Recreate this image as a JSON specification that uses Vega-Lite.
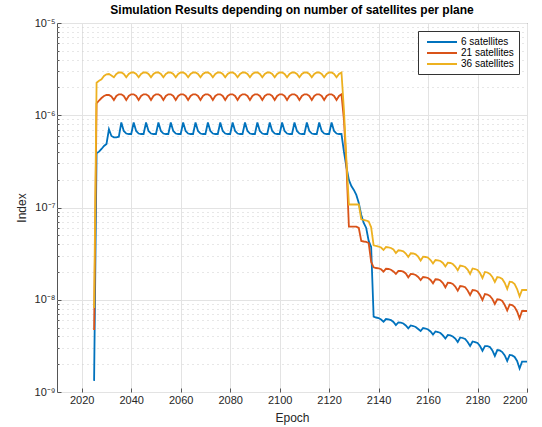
{
 "$schema": "https://vega.github.io/schema/vega-lite/v6.json",
 "width": 470,
 "height": 369,
 "autosize": "none",
 "padding": {"left": 57, "top": 23, "right": 15, "bottom": 35},
 "background": "white",
 "title": {"text": "Simulation Results depending on number of satellites per plane", "fontSize": 12, "fontWeight": "bold", "font": "Liberation Sans", "color": "#000000", "anchor": "middle", "offset": 0},
 "data": {"values": [
  {"Epoch": 2025, "6 satellites": 1.32e-9, "21 satellites": 4.70e-9, "36 satellites": 8.14e-9},
  {"Epoch": 2026, "6 satellites": 3.87e-7, "21 satellites": 1.348e-6, "36 satellites": 2.253e-6},
  {"Epoch": 2027, "6 satellites": 4.03e-7, "21 satellites": 1.445e-6, "36 satellites": 2.368e-6},
  {"Epoch": 2028, "6 satellites": 4.31e-7, "21 satellites": 1.538e-6, "36 satellites": 2.453e-6},
  {"Epoch": 2029, "6 satellites": 4.64e-7, "21 satellites": 1.617e-6, "36 satellites": 2.665e-6},
  {"Epoch": 2030, "6 satellites": 4.88e-7, "21 satellites": 1.658e-6, "36 satellites": 2.78e-6},
  {"Epoch": 2031, "6 satellites": 7.04e-7, "21 satellites": 1.658e-6, "36 satellites": 2.80e-6},
  {"Epoch": 2032, "6 satellites": 5.96e-7, "21 satellites": 1.597e-6, "36 satellites": 2.698e-6},
  {"Epoch": 2033, "6 satellites": 5.77e-7, "21 satellites": 1.463e-6, "36 satellites": 2.579e-6},
  {"Epoch": 2034, "6 satellites": 5.77e-7, "21 satellites": 1.617e-6, "36 satellites": 2.80e-6},
  {"Epoch": 2035, "6 satellites": 5.86e-7, "21 satellites": 1.687e-6, "36 satellites": 2.906e-6},
  {"Epoch": 2036, "6 satellites": 8.34e-7, "21 satellites": 1.687e-6, "36 satellites": 2.906e-6},
  {"Epoch": 2037, "6 satellites": 6.75e-7, "21 satellites": 1.617e-6, "36 satellites": 2.80e-6},
  {"Epoch": 2038, "6 satellites": 6.34e-7, "21 satellites": 1.463e-6, "36 satellites": 2.579e-6},
  {"Epoch": 2039, "6 satellites": 6.26e-7, "21 satellites": 1.617e-6, "36 satellites": 2.80e-6},
  {"Epoch": 2040, "6 satellites": 6.26e-7, "21 satellites": 1.687e-6, "36 satellites": 2.906e-6},
  {"Epoch": 2041, "6 satellites": 8.34e-7, "21 satellites": 1.687e-6, "36 satellites": 2.906e-6},
  {"Epoch": 2042, "6 satellites": 6.75e-7, "21 satellites": 1.617e-6, "36 satellites": 2.80e-6},
  {"Epoch": 2043, "6 satellites": 6.34e-7, "21 satellites": 1.463e-6, "36 satellites": 2.579e-6},
  {"Epoch": 2044, "6 satellites": 6.26e-7, "21 satellites": 1.617e-6, "36 satellites": 2.80e-6},
  {"Epoch": 2045, "6 satellites": 6.26e-7, "21 satellites": 1.687e-6, "36 satellites": 2.906e-6},
  {"Epoch": 2046, "6 satellites": 8.34e-7, "21 satellites": 1.687e-6, "36 satellites": 2.906e-6},
  {"Epoch": 2047, "6 satellites": 6.75e-7, "21 satellites": 1.617e-6, "36 satellites": 2.80e-6},
  {"Epoch": 2048, "6 satellites": 6.34e-7, "21 satellites": 1.463e-6, "36 satellites": 2.579e-6},
  {"Epoch": 2049, "6 satellites": 6.26e-7, "21 satellites": 1.617e-6, "36 satellites": 2.80e-6},
  {"Epoch": 2050, "6 satellites": 6.26e-7, "21 satellites": 1.687e-6, "36 satellites": 2.906e-6},
  {"Epoch": 2051, "6 satellites": 8.34e-7, "21 satellites": 1.687e-6, "36 satellites": 2.906e-6},
  {"Epoch": 2052, "6 satellites": 6.75e-7, "21 satellites": 1.617e-6, "36 satellites": 2.80e-6},
  {"Epoch": 2053, "6 satellites": 6.34e-7, "21 satellites": 1.463e-6, "36 satellites": 2.579e-6},
  {"Epoch": 2054, "6 satellites": 6.26e-7, "21 satellites": 1.617e-6, "36 satellites": 2.80e-6},
  {"Epoch": 2055, "6 satellites": 6.26e-7, "21 satellites": 1.687e-6, "36 satellites": 2.906e-6},
  {"Epoch": 2056, "6 satellites": 8.34e-7, "21 satellites": 1.687e-6, "36 satellites": 2.906e-6},
  {"Epoch": 2057, "6 satellites": 6.75e-7, "21 satellites": 1.617e-6, "36 satellites": 2.80e-6},
  {"Epoch": 2058, "6 satellites": 6.34e-7, "21 satellites": 1.463e-6, "36 satellites": 2.579e-6},
  {"Epoch": 2059, "6 satellites": 6.26e-7, "21 satellites": 1.617e-6, "36 satellites": 2.80e-6},
  {"Epoch": 2060, "6 satellites": 6.26e-7, "21 satellites": 1.687e-6, "36 satellites": 2.906e-6},
  {"Epoch": 2061, "6 satellites": 8.34e-7, "21 satellites": 1.687e-6, "36 satellites": 2.906e-6},
  {"Epoch": 2062, "6 satellites": 6.75e-7, "21 satellites": 1.617e-6, "36 satellites": 2.80e-6},
  {"Epoch": 2063, "6 satellites": 6.34e-7, "21 satellites": 1.463e-6, "36 satellites": 2.579e-6},
  {"Epoch": 2064, "6 satellites": 6.26e-7, "21 satellites": 1.617e-6, "36 satellites": 2.80e-6},
  {"Epoch": 2065, "6 satellites": 6.26e-7, "21 satellites": 1.687e-6, "36 satellites": 2.906e-6},
  {"Epoch": 2066, "6 satellites": 8.34e-7, "21 satellites": 1.687e-6, "36 satellites": 2.906e-6},
  {"Epoch": 2067, "6 satellites": 6.75e-7, "21 satellites": 1.617e-6, "36 satellites": 2.80e-6},
  {"Epoch": 2068, "6 satellites": 6.34e-7, "21 satellites": 1.463e-6, "36 satellites": 2.579e-6},
  {"Epoch": 2069, "6 satellites": 6.26e-7, "21 satellites": 1.617e-6, "36 satellites": 2.80e-6},
  {"Epoch": 2070, "6 satellites": 6.26e-7, "21 satellites": 1.687e-6, "36 satellites": 2.906e-6},
  {"Epoch": 2071, "6 satellites": 8.34e-7, "21 satellites": 1.687e-6, "36 satellites": 2.906e-6},
  {"Epoch": 2072, "6 satellites": 6.75e-7, "21 satellites": 1.617e-6, "36 satellites": 2.80e-6},
  {"Epoch": 2073, "6 satellites": 6.34e-7, "21 satellites": 1.463e-6, "36 satellites": 2.579e-6},
  {"Epoch": 2074, "6 satellites": 6.26e-7, "21 satellites": 1.617e-6, "36 satellites": 2.80e-6},
  {"Epoch": 2075, "6 satellites": 6.26e-7, "21 satellites": 1.687e-6, "36 satellites": 2.906e-6},
  {"Epoch": 2076, "6 satellites": 8.34e-7, "21 satellites": 1.687e-6, "36 satellites": 2.906e-6},
  {"Epoch": 2077, "6 satellites": 6.75e-7, "21 satellites": 1.617e-6, "36 satellites": 2.80e-6},
  {"Epoch": 2078, "6 satellites": 6.34e-7, "21 satellites": 1.463e-6, "36 satellites": 2.579e-6},
  {"Epoch": 2079, "6 satellites": 6.26e-7, "21 satellites": 1.617e-6, "36 satellites": 2.80e-6},
  {"Epoch": 2080, "6 satellites": 6.26e-7, "21 satellites": 1.687e-6, "36 satellites": 2.906e-6},
  {"Epoch": 2081, "6 satellites": 8.34e-7, "21 satellites": 1.687e-6, "36 satellites": 2.906e-6},
  {"Epoch": 2082, "6 satellites": 6.75e-7, "21 satellites": 1.617e-6, "36 satellites": 2.80e-6},
  {"Epoch": 2083, "6 satellites": 6.34e-7, "21 satellites": 1.463e-6, "36 satellites": 2.579e-6},
  {"Epoch": 2084, "6 satellites": 6.26e-7, "21 satellites": 1.617e-6, "36 satellites": 2.80e-6},
  {"Epoch": 2085, "6 satellites": 6.26e-7, "21 satellites": 1.687e-6, "36 satellites": 2.906e-6},
  {"Epoch": 2086, "6 satellites": 8.34e-7, "21 satellites": 1.687e-6, "36 satellites": 2.906e-6},
  {"Epoch": 2087, "6 satellites": 6.75e-7, "21 satellites": 1.617e-6, "36 satellites": 2.80e-6},
  {"Epoch": 2088, "6 satellites": 6.34e-7, "21 satellites": 1.463e-6, "36 satellites": 2.579e-6},
  {"Epoch": 2089, "6 satellites": 6.26e-7, "21 satellites": 1.617e-6, "36 satellites": 2.80e-6},
  {"Epoch": 2090, "6 satellites": 6.26e-7, "21 satellites": 1.687e-6, "36 satellites": 2.906e-6},
  {"Epoch": 2091, "6 satellites": 8.34e-7, "21 satellites": 1.687e-6, "36 satellites": 2.906e-6},
  {"Epoch": 2092, "6 satellites": 6.75e-7, "21 satellites": 1.617e-6, "36 satellites": 2.80e-6},
  {"Epoch": 2093, "6 satellites": 6.34e-7, "21 satellites": 1.463e-6, "36 satellites": 2.579e-6},
  {"Epoch": 2094, "6 satellites": 6.26e-7, "21 satellites": 1.617e-6, "36 satellites": 2.80e-6},
  {"Epoch": 2095, "6 satellites": 6.26e-7, "21 satellites": 1.687e-6, "36 satellites": 2.906e-6},
  {"Epoch": 2096, "6 satellites": 8.34e-7, "21 satellites": 1.687e-6, "36 satellites": 2.906e-6},
  {"Epoch": 2097, "6 satellites": 6.75e-7, "21 satellites": 1.617e-6, "36 satellites": 2.80e-6},
  {"Epoch": 2098, "6 satellites": 6.34e-7, "21 satellites": 1.463e-6, "36 satellites": 2.579e-6},
  {"Epoch": 2099, "6 satellites": 6.26e-7, "21 satellites": 1.617e-6, "36 satellites": 2.80e-6},
  {"Epoch": 2100, "6 satellites": 6.26e-7, "21 satellites": 1.687e-6, "36 satellites": 2.906e-6},
  {"Epoch": 2101, "6 satellites": 8.34e-7, "21 satellites": 1.687e-6, "36 satellites": 2.906e-6},
  {"Epoch": 2102, "6 satellites": 6.75e-7, "21 satellites": 1.617e-6, "36 satellites": 2.80e-6},
  {"Epoch": 2103, "6 satellites": 6.34e-7, "21 satellites": 1.463e-6, "36 satellites": 2.579e-6},
  {"Epoch": 2104, "6 satellites": 6.26e-7, "21 satellites": 1.617e-6, "36 satellites": 2.80e-6},
  {"Epoch": 2105, "6 satellites": 6.26e-7, "21 satellites": 1.687e-6, "36 satellites": 2.906e-6},
  {"Epoch": 2106, "6 satellites": 8.34e-7, "21 satellites": 1.687e-6, "36 satellites": 2.906e-6},
  {"Epoch": 2107, "6 satellites": 6.75e-7, "21 satellites": 1.617e-6, "36 satellites": 2.80e-6},
  {"Epoch": 2108, "6 satellites": 6.34e-7, "21 satellites": 1.463e-6, "36 satellites": 2.579e-6},
  {"Epoch": 2109, "6 satellites": 6.26e-7, "21 satellites": 1.617e-6, "36 satellites": 2.80e-6},
  {"Epoch": 2110, "6 satellites": 6.26e-7, "21 satellites": 1.687e-6, "36 satellites": 2.906e-6},
  {"Epoch": 2111, "6 satellites": 8.34e-7, "21 satellites": 1.687e-6, "36 satellites": 2.906e-6},
  {"Epoch": 2112, "6 satellites": 6.75e-7, "21 satellites": 1.617e-6, "36 satellites": 2.80e-6},
  {"Epoch": 2113, "6 satellites": 6.34e-7, "21 satellites": 1.463e-6, "36 satellites": 2.579e-6},
  {"Epoch": 2114, "6 satellites": 6.26e-7, "21 satellites": 1.617e-6, "36 satellites": 2.80e-6},
  {"Epoch": 2115, "6 satellites": 6.26e-7, "21 satellites": 1.687e-6, "36 satellites": 2.906e-6},
  {"Epoch": 2116, "6 satellites": 8.34e-7, "21 satellites": 1.687e-6, "36 satellites": 2.906e-6},
  {"Epoch": 2117, "6 satellites": 6.75e-7, "21 satellites": 1.617e-6, "36 satellites": 2.80e-6},
  {"Epoch": 2118, "6 satellites": 6.34e-7, "21 satellites": 1.463e-6, "36 satellites": 2.579e-6},
  {"Epoch": 2119, "6 satellites": 6.26e-7, "21 satellites": 1.617e-6, "36 satellites": 2.80e-6},
  {"Epoch": 2120, "6 satellites": 6.26e-7, "21 satellites": 1.687e-6, "36 satellites": 2.906e-6},
  {"Epoch": 2121, "6 satellites": 8.34e-7, "21 satellites": 1.687e-6, "36 satellites": 2.906e-6},
  {"Epoch": 2122, "6 satellites": 6.75e-7, "21 satellites": 1.617e-6, "36 satellites": 2.80e-6},
  {"Epoch": 2123, "6 satellites": 6.34e-7, "21 satellites": 1.463e-6, "36 satellites": 2.579e-6},
  {"Epoch": 2124, "6 satellites": 6.26e-7, "21 satellites": 1.617e-6, "36 satellites": 2.80e-6},
  {"Epoch": 2125, "6 satellites": 6.26e-7, "21 satellites": 1.687e-6, "36 satellites": 2.906e-6},
  {"Epoch": 2126, "6 satellites": 4.00e-7, "21 satellites": 8.88e-7, "36 satellites": 1.14e-6},
  {"Epoch": 2127, "6 satellites": 2.75e-7, "21 satellites": 2.89e-7, "36 satellites": 3.27e-7},
  {"Epoch": 2128, "6 satellites": 1.99e-7, "21 satellites": 6.19e-8, "36 satellites": 1.078e-7},
  {"Epoch": 2129, "6 satellites": 1.71e-7, "21 satellites": 6.19e-8, "36 satellites": 1.078e-7},
  {"Epoch": 2130, "6 satellites": 1.55e-7, "21 satellites": 6.19e-8, "36 satellites": 1.078e-7},
  {"Epoch": 2131, "6 satellites": 1.37e-7, "21 satellites": 6.19e-8, "36 satellites": 1.078e-7},
  {"Epoch": 2132, "6 satellites": 1.12e-7, "21 satellites": 6.0e-8, "36 satellites": 1.078e-7},
  {"Epoch": 2133, "6 satellites": 8.29e-8, "21 satellites": 4.34e-8, "36 satellites": 7.45e-8},
  {"Epoch": 2134, "6 satellites": 6.79e-8, "21 satellites": 4.28e-8, "36 satellites": 7.32e-8},
  {"Epoch": 2135, "6 satellites": 6.0e-8, "21 satellites": 4.23e-8, "36 satellites": 7.23e-8},
  {"Epoch": 2136, "6 satellites": 4.34e-8, "21 satellites": 4.12e-8, "36 satellites": 7.05e-8},
  {"Epoch": 2137, "6 satellites": 3.73e-8, "21 satellites": 2.57e-8, "36 satellites": 6.1e-8},
  {"Epoch": 2138, "6 satellites": 6.55e-9, "21 satellites": 2.247e-8, "36 satellites": 3.893e-8},
  {"Epoch": 2139, "6 satellites": 6.42e-9, "21 satellites": 2.209e-8, "36 satellites": 3.826e-8},
  {"Epoch": 2140, "6 satellites": 6.34e-9, "21 satellites": 2.193e-8, "36 satellites": 3.778e-8},
  {"Epoch": 2141, "6 satellites": 6.11e-9, "21 satellites": 2.139e-8, "36 satellites": 3.685e-8},
  {"Epoch": 2142, "6 satellites": 5.78e-9, "21 satellites": 2.015e-8, "36 satellites": 3.462e-8},
  {"Epoch": 2143, "6 satellites": 6.18e-9, "21 satellites": 2.166e-8, "36 satellites": 3.731e-8},
  {"Epoch": 2144, "6 satellites": 6.14e-9, "21 satellites": 2.154e-8, "36 satellites": 3.703e-8},
  {"Epoch": 2145, "6 satellites": 6.03e-9, "21 satellites": 2.117e-8, "36 satellites": 3.639e-8},
  {"Epoch": 2146, "6 satellites": 5.74e-9, "21 satellites": 2.025e-8, "36 satellites": 3.505e-8},
  {"Epoch": 2147, "6 satellites": 5.32e-9, "21 satellites": 1.902e-8, "36 satellites": 3.212e-8},
  {"Epoch": 2148, "6 satellites": 5.67e-9, "21 satellites": 2.050e-8, "36 satellites": 3.436e-8},
  {"Epoch": 2149, "6 satellites": 5.64e-9, "21 satellites": 2.050e-8, "36 satellites": 3.402e-8},
  {"Epoch": 2150, "6 satellites": 5.53e-9, "21 satellites": 2.015e-8, "36 satellites": 3.351e-8},
  {"Epoch": 2151, "6 satellites": 5.26e-9, "21 satellites": 1.926e-8, "36 satellites": 3.172e-8},
  {"Epoch": 2152, "6 satellites": 4.90e-9, "21 satellites": 1.751e-8, "36 satellites": 2.907e-8},
  {"Epoch": 2153, "6 satellites": 5.26e-9, "21 satellites": 1.902e-8, "36 satellites": 3.188e-8},
  {"Epoch": 2154, "6 satellites": 5.19e-9, "21 satellites": 1.892e-8, "36 satellites": 3.172e-8},
  {"Epoch": 2155, "6 satellites": 5.07e-9, "21 satellites": 1.855e-8, "36 satellites": 3.110e-8},
  {"Epoch": 2156, "6 satellites": 4.82e-9, "21 satellites": 1.764e-8, "36 satellites": 2.929e-8},
  {"Epoch": 2157, "6 satellites": 4.58e-9, "21 satellites": 1.637e-8, "36 satellites": 2.664e-8},
  {"Epoch": 2158, "6 satellites": 4.94e-9, "21 satellites": 1.764e-8, "36 satellites": 2.929e-8},
  {"Epoch": 2159, "6 satellites": 4.88e-9, "21 satellites": 1.751e-8, "36 satellites": 2.907e-8},
  {"Epoch": 2160, "6 satellites": 4.76e-9, "21 satellites": 1.721e-8, "36 satellites": 2.857e-8},
  {"Epoch": 2161, "6 satellites": 4.53e-9, "21 satellites": 1.637e-8, "36 satellites": 2.697e-8},
  {"Epoch": 2162, "6 satellites": 4.20e-9, "21 satellites": 1.508e-8, "36 satellites": 2.472e-8},
  {"Epoch": 2163, "6 satellites": 4.53e-9, "21 satellites": 1.666e-8, "36 satellites": 2.697e-8},
  {"Epoch": 2164, "6 satellites": 4.47e-9, "21 satellites": 1.658e-8, "36 satellites": 2.677e-8},
  {"Epoch": 2165, "6 satellites": 4.36e-9, "21 satellites": 1.617e-8, "36 satellites": 2.631e-8},
  {"Epoch": 2166, "6 satellites": 4.10e-9, "21 satellites": 1.519e-8, "36 satellites": 2.503e-8},
  {"Epoch": 2167, "6 satellites": 3.80e-9, "21 satellites": 1.365e-8, "36 satellites": 2.293e-8},
  {"Epoch": 2168, "6 satellites": 4.15e-9, "21 satellites": 1.530e-8, "36 satellites": 2.521e-8},
  {"Epoch": 2169, "6 satellites": 4.10e-9, "21 satellites": 1.519e-8, "36 satellites": 2.503e-8},
  {"Epoch": 2170, "6 satellites": 4.00e-9, "21 satellites": 1.482e-8, "36 satellites": 2.441e-8},
  {"Epoch": 2171, "6 satellites": 3.80e-9, "21 satellites": 1.392e-8, "36 satellites": 2.293e-8},
  {"Epoch": 2172, "6 satellites": 3.48e-9, "21 satellites": 1.253e-8, "36 satellites": 2.086e-8},
  {"Epoch": 2173, "6 satellites": 3.90e-9, "21 satellites": 1.410e-8, "36 satellites": 2.351e-8},
  {"Epoch": 2174, "6 satellites": 3.85e-9, "21 satellites": 1.399e-8, "36 satellites": 2.322e-8},
  {"Epoch": 2175, "6 satellites": 3.75e-9, "21 satellites": 1.365e-8, "36 satellites": 2.265e-8},
  {"Epoch": 2176, "6 satellites": 3.48e-9, "21 satellites": 1.260e-8, "36 satellites": 2.128e-8},
  {"Epoch": 2177, "6 satellites": 3.15e-9, "21 satellites": 1.126e-8, "36 satellites": 1.902e-8},
  {"Epoch": 2178, "6 satellites": 3.53e-9, "21 satellites": 1.276e-8, "36 satellites": 2.182e-8},
  {"Epoch": 2179, "6 satellites": 3.48e-9, "21 satellites": 1.266e-8, "36 satellites": 2.154e-8},
  {"Epoch": 2180, "6 satellites": 3.40e-9, "21 satellites": 1.229e-8, "36 satellites": 2.102e-8},
  {"Epoch": 2181, "6 satellites": 3.15e-9, "21 satellites": 1.126e-8, "36 satellites": 1.950e-8},
  {"Epoch": 2182, "6 satellites": 2.80e-9, "21 satellites": 9.94e-9, "36 satellites": 1.721e-8},
  {"Epoch": 2183, "6 satellites": 3.15e-9, "21 satellites": 1.154e-8, "36 satellites": 2.000e-8},
  {"Epoch": 2184, "6 satellites": 3.15e-9, "21 satellites": 1.140e-8, "36 satellites": 1.975e-8},
  {"Epoch": 2185, "6 satellites": 3.07e-9, "21 satellites": 1.098e-8, "36 satellites": 1.902e-8},
  {"Epoch": 2186, "6 satellites": 2.82e-9, "21 satellites": 1.019e-8, "36 satellites": 1.764e-8},
  {"Epoch": 2187, "6 satellites": 2.46e-9, "21 satellites": 8.99e-9, "36 satellites": 1.557e-8},
  {"Epoch": 2188, "6 satellites": 2.85e-9, "21 satellites": 1.011e-8, "36 satellites": 1.764e-8},
  {"Epoch": 2189, "6 satellites": 2.82e-9, "21 satellites": 1.006e-8, "36 satellites": 1.743e-8},
  {"Epoch": 2190, "6 satellites": 2.71e-9, "21 satellites": 9.69e-9, "36 satellites": 1.679e-8},
  {"Epoch": 2191, "6 satellites": 2.49e-9, "21 satellites": 8.77e-9, "36 satellites": 1.519e-8},
  {"Epoch": 2192, "6 satellites": 2.17e-9, "21 satellites": 7.65e-9, "36 satellites": 1.308e-8},
  {"Epoch": 2193, "6 satellites": 2.52e-9, "21 satellites": 8.88e-9, "36 satellites": 1.569e-8},
  {"Epoch": 2194, "6 satellites": 2.49e-9, "21 satellites": 8.77e-9, "36 satellites": 1.557e-8},
  {"Epoch": 2195, "6 satellites": 2.40e-9, "21 satellites": 8.35e-9, "36 satellites": 1.482e-8},
  {"Epoch": 2196, "6 satellites": 2.17e-9, "21 satellites": 7.46e-9, "36 satellites": 1.308e-8},
  {"Epoch": 2197, "6 satellites": 1.80e-9, "21 satellites": 6.29e-9, "36 satellites": 1.090e-8},
  {"Epoch": 2198, "6 satellites": 2.13e-9, "21 satellites": 7.55e-9, "36 satellites": 1.276e-8},
  {"Epoch": 2199, "6 satellites": 2.13e-9, "21 satellites": 7.55e-9, "36 satellites": 1.276e-8},
  {"Epoch": 2200, "6 satellites": 2.13e-9, "21 satellites": 7.55e-9, "36 satellites": 1.276e-8}
 ]},
 "transform": [{"fold": ["6 satellites", "21 satellites", "36 satellites"], "as": ["series", "Index"]}],
 "mark": {"type": "line", "strokeWidth": 1.8, "clip": true},
 "encoding": {
  "x": {"field": "Epoch", "type": "quantitative",
   "scale": {"domain": [2010, 2200], "nice": false, "zero": false},
   "axis": {"title": "Epoch", "values": [2020, 2040, 2060, 2080, 2100, 2120, 2140, 2160, 2180, 2200], "format": "d",
    "labelFontSize": 11, "labelColor": "#262626", "labelPadding": 6, "labelFont": "Liberation Sans",
    "titleFontSize": 12, "titleFontWeight": "normal", "titleColor": "#262626", "titleFont": "Liberation Sans", "titlePadding": 7,
    "domain": false, "ticks": true, "tickSize": -4, "tickColor": "#555555",
    "grid": true, "gridColor": "#e3e3e3", "gridWidth": 1}},
  "y": {"field": "Index", "type": "quantitative",
   "scale": {"type": "log", "domain": [1e-9, 1e-5], "nice": false},
   "axis": {"title": "Index",
    "values": [1e-9, 2e-9, 3e-9, 4e-9, 5e-9, 6e-9, 7e-9, 8e-9, 9e-9, 1e-8, 2e-8, 3e-8, 4e-8, 5e-8, 6e-8, 7e-8, 8e-8, 9e-8, 1e-7, 2e-7, 3e-7, 4e-7, 5e-7, 6e-7, 7e-7, 8e-7, 9e-7, 1e-6, 2e-6, 3e-6, 4e-6, 5e-6, 6e-6, 7e-6, 8e-6, 9e-6, 1e-5],
    "labelExpr": "datum.value == 1e-9 ? '10⁻⁹' : datum.value == 1e-8 ? '10⁻⁸' : datum.value == 1e-7 ? '10⁻⁷' : datum.value == 1e-6 ? '10⁻⁶' : datum.value == 1e-5 ? '10⁻⁵' : ''",
    "labelFontSize": 11, "labelColor": "#262626", "labelPadding": 6, "labelFont": "Liberation Sans",
    "titleFontSize": 12, "titleFontWeight": "normal", "titleColor": "#262626", "titleFont": "Liberation Sans", "titlePadding": 6,
    "domain": false, "ticks": true, "tickColor": "#555555",
    "tickSize": {"condition": {"test": "datum.value == 1e-9 || datum.value == 1e-8 || datum.value == 1e-7 || datum.value == 1e-6 || datum.value == 1e-5", "value": -4}, "value": -2},
    "grid": true, "gridWidth": 1,
    "gridColor": {"condition": {"test": "datum.value == 1e-9 || datum.value == 1e-8 || datum.value == 1e-7 || datum.value == 1e-6 || datum.value == 1e-5", "value": "#e3e3e3"}, "value": "#cfcfcf"},
    "gridDash": {"condition": {"test": "datum.value == 1e-9 || datum.value == 1e-8 || datum.value == 1e-7 || datum.value == 1e-6 || datum.value == 1e-5", "value": []}, "value": [1, 4]}}},
  "color": {"field": "series", "type": "nominal",
   "scale": {"domain": ["6 satellites", "21 satellites", "36 satellites"], "range": ["#0072BD", "#D95319", "#EDB120"]},
   "legend": {"title": null, "orient": "none", "legendX": 361, "legendY": 8, "direction": "vertical", "columns": 1,
    "symbolType": "M-3,0H3", "symbolSize": 100, "symbolStrokeWidth": 2, "symbolOffset": 13,
    "labelFontSize": 10, "labelFont": "Liberation Sans", "labelColor": "#000000", "labelOffset": 15, "labelAlign": "left",
    "fillColor": "white", "strokeColor": "#333333", "padding": 5, "rowPadding": 0,
    "encode": {"labels": {"update": {"align": {"value": "left"}, "x": {"value": 38}}}}}}
 },
 "config": {"view": {"stroke": "#555555", "strokeWidth": 1}}
}
